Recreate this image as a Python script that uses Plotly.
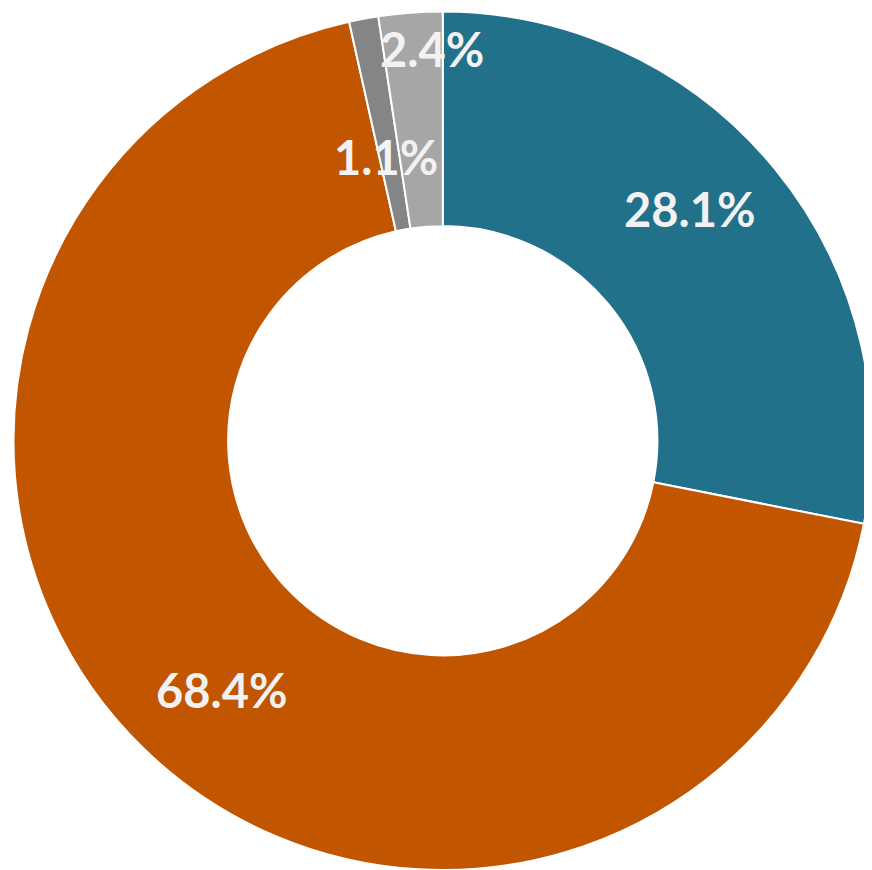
import math
import plotly.graph_objects as go

# Data
categories = ["A", "B", "C", "D"]
values = [28.1, 68.4, 1.1, 2.4]
labels_text = ["28.1%", "68.4%", "1.1%", "2.4%"]

colors = ["#22718a", "#c25500", "#858585", "#a6a6a6"]
# label placement relative to slice mid-angle
label_radius_frac = [0.79, 0.775, 0.675, 0.913]
label_angle_shift = [-3.8, -2.7, -0.6, 2.8]  # degrees

W, H = 864, 862
dom_x = [5.5 / W, 1.0]
dom_y = [0.0, 1 - 3.5 / H]

fig = go.Figure(go.Pie(
    labels=categories,
    values=values,
    sort=False,
    direction="clockwise",
    rotation=0,
    hole=0.5,
    textinfo="none",
    hoverinfo="label+percent",
    marker=dict(colors=colors, line=dict(color="white", width=2)),
    domain=dict(x=dom_x, y=dom_y),
    showlegend=False,
))

# label positions derived from the data (mid-angle of each slice)
r_px = min((dom_x[1] - dom_x[0]) * W, (dom_y[1] - dom_y[0]) * H) / 2
cx = (dom_x[0] + dom_x[1]) / 2
cy = (dom_y[0] + dom_y[1]) / 2
total = sum(values)
cum = 0.0
for v, t, f, s in zip(values, labels_text, label_radius_frac, label_angle_shift):
    mid = (cum + v / 2) / total * 2 * math.pi + math.radians(s)
    cum += v
    x = cx + f * r_px * math.sin(mid) / W
    y = cy + f * r_px * math.cos(mid) / H
    fig.add_annotation(
        x=x, y=y, xref="paper", yref="paper", text=t, showarrow=False,
        font=dict(family="Lato", size=47, color="#f2f2f2", weight="bold"),
        xanchor="center", yanchor="middle",
    )

fig.update_layout(
    width=W, height=H,
    margin=dict(l=0, r=0, t=0, b=0),
    paper_bgcolor="white",
    plot_bgcolor="white",
)

fig.write_html("out.html")
